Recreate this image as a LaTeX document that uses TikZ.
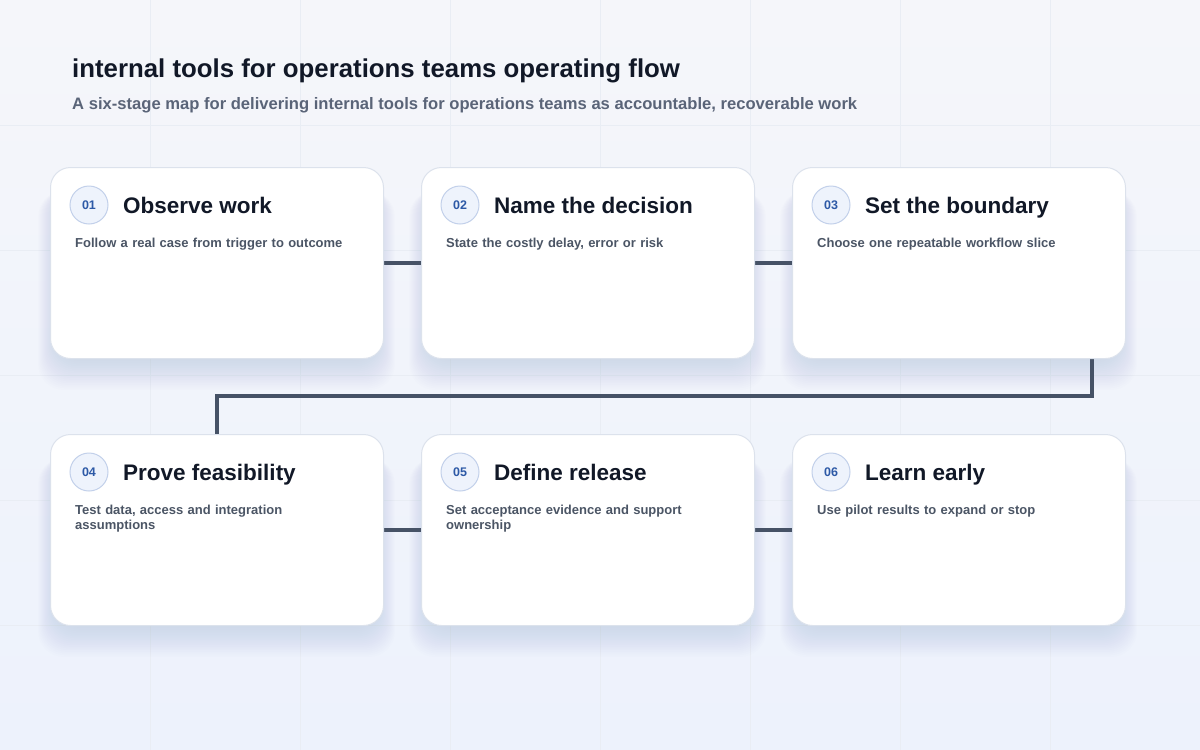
\documentclass[tikz,border=0pt]{standalone}
\usepackage{fontspec}
\setmainfont{Liberation Sans}
\usetikzlibrary{calc}
\definecolor{bgA}{HTML}{F5F6FA}
\definecolor{bgB}{HTML}{EDF2FC}
\definecolor{gridc}{HTML}{E9EDF4}
\definecolor{cardborder}{HTML}{DCE2EC}
\definecolor{ink}{HTML}{111827}
\definecolor{muted}{HTML}{5A6478}
\definecolor{desc}{HTML}{4B5565}
\definecolor{badgefill}{HTML}{EEF3FC}
\definecolor{badgeborder}{HTML}{C2D0EA}
\definecolor{badgetext}{HTML}{2D59A6}
\definecolor{connc}{HTML}{465266}
\definecolor{shadowc}{HTML}{7F8FAE}
\pgfdeclarelayer{shadowlayer}
\pgfdeclarelayer{connlayer}
\pgfsetlayers{shadowlayer,connlayer,main}
\tikzset{
  card/.style={draw=cardborder, line width=1pt, fill=white, rounded corners=20pt,
    minimum width=333pt, minimum height=191pt, inner sep=0pt},
  badge/.style={circle, draw=badgeborder, line width=1pt, fill=badgefill,
    minimum size=38pt, inner sep=0pt, text=badgetext,
    font=\fontsize{12.5}{14}\selectfont\bfseries},
  cardtitle/.style={anchor=base west, inner sep=0pt, text=ink,
    font=\fontsize{22.5}{26}\selectfont\bfseries},
  carddesc/.style={anchor=base west, inner sep=0pt, text=desc, text width=300pt,
    align=left, font=\fontsize{13}{15}\selectfont\bfseries},
  conn/.style={draw=connc, line width=3.5pt},
  headline/.style={anchor=base west, inner sep=0pt, text=ink,
    font=\fontsize{25.8}{30}\selectfont\bfseries},
  subline/.style={anchor=base west, inner sep=0pt, text=muted,
    font=\fontsize{16.6}{19}\selectfont\bfseries},
}
\newcommand\stagecard[6]{%
  \begin{pgfonlayer}{shadowlayer}
    \foreach \i in {1,...,20}{
      \fill[shadowc, opacity=0.011, rounded corners=26pt]
        ({#2+8-\i*1.0}, {#3+18+\i*0.3}) rectangle ({#2+325+\i*1.0}, {#3+191-2+\i*1.7});
    }
  \end{pgfonlayer}
  \node[card, anchor=north west] (#1) at (#2,#3) {};
  \node[badge] (#1b) at ($(#1.north west)+(39,38)$) {#4};
  \node[cardtitle] (#1t) at ($(#1.north west)+(73,46)$) {#5};
  \node[carddesc] (#1d) at ($(#1.north west)+(25,80)$) {#6};
}
\begin{document}
\begin{tikzpicture}[x=1pt,y=-1pt]
\useasboundingbox (0,0) rectangle (1200,750);
\begin{pgfonlayer}{shadowlayer}
\shade[top color=bgA, bottom color=bgB] (0,0) rectangle (1200,750);
\foreach \x in {150,300,...,1050} \draw[gridc, line width=0.8pt] (\x,0) -- (\x,750);
\foreach \y in {125,250,...,625} \draw[gridc, line width=0.8pt] (0,\y) -- (1200,\y);
\end{pgfonlayer}
\node[headline] (title) at (72,77) {internal tools for operations teams operating flow};
\node[subline] (subtitle) at (72,109) {A six-stage map for delivering internal tools for operations teams as accountable, recoverable work};
\stagecard{c1}{50}{167}{01}{Observe work}{Follow a real case from trigger to outcome}
\stagecard{c2}{421}{167}{02}{Name the decision}{State the costly delay, error or risk}
\stagecard{c3}{792}{167}{03}{Set the boundary}{Choose one repeatable workflow slice}
\stagecard{c4}{50}{434}{04}{Prove feasibility}{Test data, access and integration\\assumptions}
\stagecard{c5}{421}{434}{05}{Define release}{Set acceptance evidence and support\\ownership}
\stagecard{c6}{792}{434}{06}{Learn early}{Use pilot results to expand or stop}
\begin{pgfonlayer}{connlayer}
\draw[conn] (c1.east) -- (c2.west);
\draw[conn] (c2.east) -- (c3.west);
\draw[conn] (c4.east) -- (c5.west);
\draw[conn] (c5.east) -- (c6.west);
\coordinate (turnA) at ($(c3.south east)+(-34,0)$);
\draw[conn] (turnA) -- ++(0,37) -| (c4.north);
\end{pgfonlayer}
\end{tikzpicture}
\end{document}
